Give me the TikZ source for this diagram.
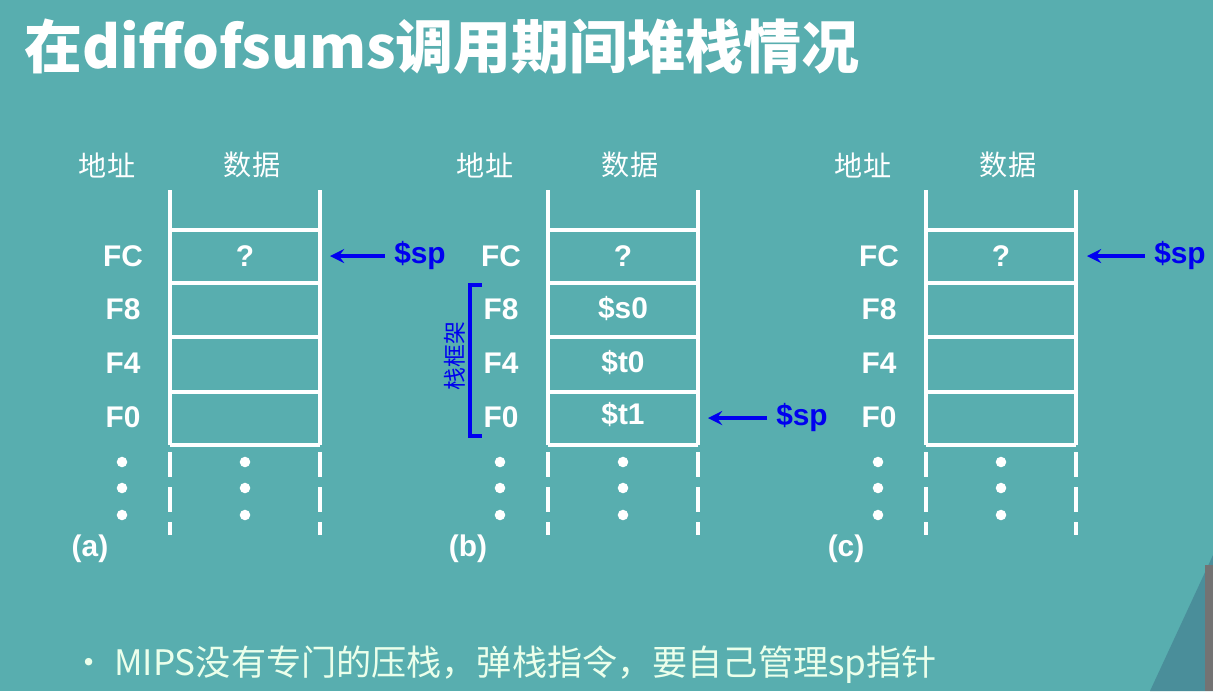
\documentclass[tikz,border=0pt]{standalone}
\usepackage{fontspec}
\setmainfont{Liberation Sans}
\newfontfamily\cjk{Noto Sans CJK SC}
\newfontfamily\cjkb{Noto Sans CJK SC Black}
\definecolor{bgteal}{HTML}{58AEAF}
\definecolor{darkteal}{HTML}{4A8E9A}
\definecolor{spblue}{HTML}{0000F0}
\tikzset{
  wline/.style={draw=white,line width=2.5pt},
  dline/.style={draw=white,line width=2.5pt,dash pattern=on 14pt off 6pt},
  addr/.style={text=white,font=\bfseries\fontsize{17}{17}\selectfont},
  head/.style={text=white,font=\cjk\fontsize{16}{16}\selectfont},
  splabel/.style={text=spblue,font=\bfseries\fontsize{17}{17}\selectfont},
  sparrow/.style={draw=spblue,line width=2.5pt,-stealth},
  vdot/.style={circle,fill=white,inner sep=0pt,minimum size=6pt}
}
\begin{document}
\begin{tikzpicture}[x=0.02cm,y=-0.02cm]
\fill[bgteal] (0,0) rectangle (1213,691);
\fill[darkteal] (1150,691) -- (1213,555) -- (1213,691) -- cycle;
\fill[black!55] (1205,565) rectangle (1213,691);
\node[anchor=west,text=white,font=\cjkb\fontsize{33}{33}\selectfont] (title) at (18,47) {在diffofsums调用期间堆栈情况};
% three stacks
\foreach \dx/\lab in {0/a,378/b,756/c}{
  \begin{scope}[xshift=\dx*0.02cm]
  \node[head] (addr\lab) at (107,165) {地址};
  \node[head] (data\lab) at (252,165) {数据};
  \draw[wline] (170,190) -- (170,445) (320,190) -- (320,445);
  \draw[dline] (170,452) -- (170,535) (320,452) -- (320,535);
  \foreach \y in {230,283,337,392,445}
    \draw[wline] (170,\y) -- (320,\y);
  \node[addr] (fc\lab) at (123,256) {FC};
  \node[addr] (f8\lab) at (123,309) {F8};
  \node[addr] (f4\lab) at (123,363) {F4};
  \node[addr] (f0\lab) at (123,417) {F0};
  \node[addr] (q\lab) at (245,256) {?};
  \foreach \y in {462,488,515}{
    \node[vdot] at (122,\y) {};
    \node[vdot] at (245,\y) {};
  }
  \node[addr] (tag\lab) at (90,549) {(\lab)};
  \end{scope}
}
\node[addr] (s0) at (623,309) {\$s0};
\node[addr] (t0) at (623,363) {\$t0};
\node[addr] (t1) at (623,415) {\$t1};
% stack pointers
\node[splabel] (spa) at (420,256) {\$sp};
\coordinate (pa) at (330,256);
\draw[sparrow] (spa.west) ++(-3,0) -- (pa);
\node[splabel] (spb) at (802,418) {\$sp};
\coordinate (pb) at (708,418);
\draw[sparrow] (spb.west) ++(-3,0) -- (pb);
\node[splabel] (spc) at (1180,256) {\$sp};
\coordinate (pc) at (1087,256);
\draw[sparrow] (spc.west) ++(-3,0) -- (pc);
% frame bracket
\draw[draw=spblue,line width=2pt] (482,285) -- (470,285) -- (470,436) -- (482,436);
\node[text=spblue,font=\cjk\fontsize{13}{13}\selectfont,rotate=90] (frame) at (455,356) {栈框架};
\node[anchor=west,text=green!8!white,font=\cjk\fontsize{20}{20}\selectfont] (note) at (65,665) {• MIPS没有专门的压栈，弹栈指令，要自己管理sp指针};
\end{tikzpicture}
\end{document}
